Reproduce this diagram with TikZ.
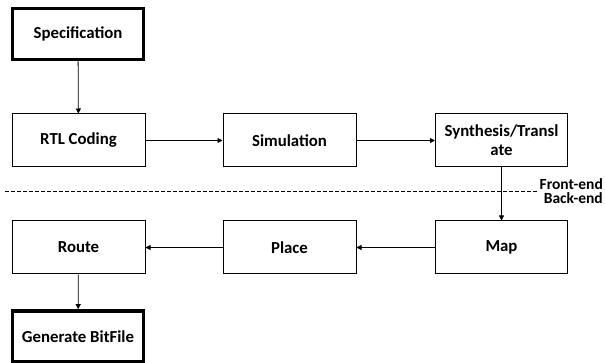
\documentclass[tikz,border=0pt]{standalone}
\usepackage{fontspec}
\setmainfont{Carlito}
\usetikzlibrary{arrows.meta}
\begin{document}
\begin{tikzpicture}[x=1pt,y=-1pt,
  stage/.style={draw=black,line width=1pt,minimum width=133pt,minimum height=53pt,
    inner sep=0pt,align=center,font=\fontsize{16.8}{19}\selectfont\bfseries},
  endstage/.style={stage,line width=3.6pt,minimum width=131pt,minimum height=51pt},
  flow/.style={line width=0.8pt,-{Triangle[length=5pt,width=5pt]}},
  phase/.style={font=\fontsize{15.5}{16}\selectfont\bfseries,inner sep=0pt,anchor=base east}]
\useasboundingbox (0,0) rectangle (605,363);
% stages of the FPGA design flow
\node[endstage] (spec)  at (78,34)     {Specification};
\node[stage]    (rtl)   at (78.5,140.5)  {RTL Coding};
\node[stage]    (sim)   at (289.5,140.5) {Simulation};
\node[stage,minimum width=132pt] (synth) at (501.5,140.5) {Synthesis/Transl\\ate};
\node[stage,minimum width=132pt] (map)   at (501.5,247.5) {Map};
\node[stage]    (place) at (289.5,247.5) {Place};
\node[stage]    (route) at (78.5,247.5)  {Route};
\node[endstage] (gen)   at (78,336.5)  {Generate BitFile};
% front-end / back-end divider
\coordinate (divL) at (5,191);
\coordinate (divR) at (537,191);
\draw[line width=0.8pt,dash pattern=on 3.5pt off 2.5pt] (divL) -- (divR);
\node[phase] (fe) at (603,190) {Front-end};
\node[phase] (be) at (603,204) {Back-end};
% connectors
\draw[flow] (spec) -- (rtl);
\draw[flow] (rtl) -- (sim);
\draw[flow] (sim) -- (synth);
\draw[flow] (synth) -- (map);
\draw[flow] (map) -- (place);
\draw[flow] (place) -- (route);
\draw[flow] (route) -- (gen);
\end{tikzpicture}
\end{document}
